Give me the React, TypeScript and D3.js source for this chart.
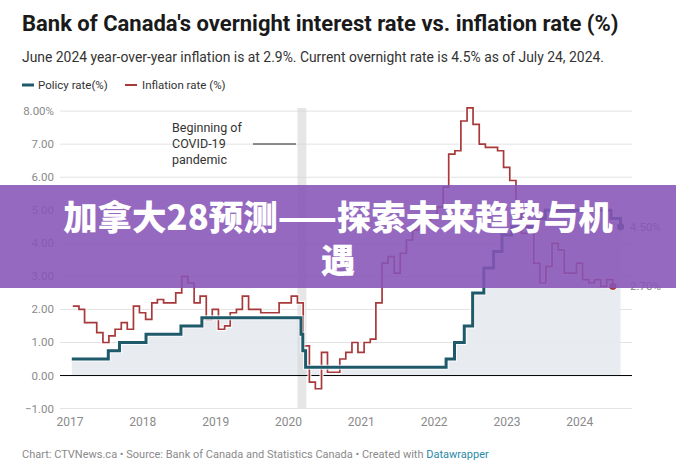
import React from "react";
import * as d3 from "d3";

const yTicks = [-1, 0, 1, 2, 3, 4, 5, 6, 7, 8];
const yearTicks = [2017, 2018, 2019, 2020, 2021, 2022, 2023, 2024];

// Policy rate changes (date, rate)
const policyDates = [
  "2017-01-10", "2017-07-12", "2017-09-06", "2018-01-17", "2018-07-11", "2018-10-24",
  "2020-03-04", "2020-03-13", "2020-03-27", "2022-03-02", "2022-04-13", "2022-06-01",
  "2022-07-13", "2022-09-07", "2022-10-26", "2022-12-07", "2023-01-25", "2023-06-07",
  "2023-07-12", "2024-06-05", "2024-07-24",
];
const policyValues = [
  0.5, 0.75, 1.0, 1.25, 1.5, 1.75,
  1.25, 0.75, 0.25, 0.5, 1.0, 1.5,
  2.5, 3.25, 3.75, 4.25, 4.5, 4.75,
  5.0, 4.75, 4.5,
];

// Monthly CPI year-over-year inflation, Jan 2017 – Jun 2024
const inflationStart = "2017-01";
const inflationValues = [
  2.1, 2.0, 1.6, 1.6, 1.3, 1.0, 1.2, 1.4, 1.6, 1.4, 2.1, 1.9,
  1.7, 2.2, 2.3, 2.2, 2.2, 2.5, 3.0, 2.8, 2.2, 2.4, 1.7, 2.0,
  1.4, 1.5, 1.9, 2.0, 2.4, 2.0, 2.0, 1.9, 1.9, 1.9, 2.2, 2.2,
  2.4, 2.2, 0.9, -0.2, -0.4, 0.7, 0.1, 0.1, 0.5, 0.7, 1.0, 0.7,
  1.0, 1.1, 2.2, 3.4, 3.6, 3.1, 3.7, 4.1, 4.4, 4.7, 4.7, 4.8,
  5.1, 5.7, 6.7, 6.8, 7.7, 8.1, 7.6, 7.0, 6.9, 6.9, 6.8, 6.3,
  5.9, 5.2, 4.3, 4.4, 3.4, 2.8, 3.3, 4.0, 3.8, 3.1, 3.1, 3.4,
  2.9, 2.8, 2.9, 2.7, 2.9, 2.7,
];

const covidBand = ["2020-02-15", "2020-03-31"];

const TITLE = "Bank of Canada's overnight interest rate vs. inflation rate (%)";
const SUBTITLE = "June 2024 year-over-year inflation is at 2.9%. Current overnight rate is 4.5% as of July 24, 2024.";
const BANNER1 = "加拿大28预测——探索未来趋势与机";
const BANNER2 = "遇";

const font = "Roboto, 'Noto Sans', sans-serif";

function yearFrac(d: Date) {
  const y = d.getFullYear();
  const s = new Date(y, 0, 1).getTime();
  const e = new Date(y + 1, 0, 1).getTime();
  return y + (d.getTime() - s) / (e - s);
}

export default function App() {
  const W = 676, H = 475;
  const x = d3.scaleLinear().domain([2017, 2024]).range([70, 579.8]);
  const y = d3.scaleLinear().domain([-1, 8]).range([408.6, 111.1]);
  const parse = d3.timeParse("%Y-%m-%d");

  const policy = policyDates.map((d, i) => ({ t: yearFrac(parse(d)!), v: policyValues[i] }));
  const [sy, sm] = inflationStart.split("-").map(Number);
  const inflation = inflationValues.map((v, i) => {
    const d = new Date(sy, sm - 1 + i, 15);
    return { t: yearFrac(d), v };
  });

  const policyLine = d3.line<{ t: number; v: number }>()
    .x((d) => x(d.t)).y((d) => y(d.v)).curve(d3.curveStepAfter);
  const policyArea = d3.area<{ t: number; v: number }>()
    .x((d) => x(d.t)).y0(y(0)).y1((d) => y(d.v)).curve(d3.curveStepAfter);
  const inflLine = d3.line<{ t: number; v: number }>()
    .x((d) => x(d.t)).y((d) => y(d.v)).curve(d3.curveStepAfter);

  const pLast = policy[policy.length - 1];
  const iLast = inflation[inflation.length - 1];
  const pEnd = [...policy, { t: 2024.56, v: pLast.v }];
  const bx0 = x(yearFrac(parse(covidBand[0])!));
  const bx1 = x(yearFrac(parse(covidBand[1])!));

  return (
    <svg width={W} height={H} style={{ position: "absolute", left: 0, top: 0, background: "#fff" }} fontFamily={font}>
      <rect width={W} height={H} fill="#fff" />
      <text x={22} y={31} fontSize={22} fontWeight={700} fill="#1a1a1a">{TITLE}</text>
      <text x={22} y={62} fontSize={13.9} fill="#333">{SUBTITLE}</text>
      {/* legend */}
      <line x1={22} x2={34} y1={85} y2={85} stroke="#1f5a6b" strokeWidth={3} />
      <text x={38} y={89} fontSize={11.5} fill="#333">Policy rate(%)</text>
      <line x1={125} x2={137} y1={85} y2={85} stroke="#a8393a" strokeWidth={2} />
      <text x={142} y={89} fontSize={11.5} fill="#333">Inflation rate (%)</text>

      {/* gridlines */}
      {yTicks.map((t) => (
        <line key={t} x1={60} x2={632} y1={y(t)} y2={y(t)} stroke="#e2e2e2" strokeWidth={1} />
      ))}
      {yTicks.map((t) => (
        <text key={"l" + t} x={54} y={y(t) + 4} fontSize={11.5} textAnchor="end" fill="#8a8a8a">
          {t === 8 ? "8.00%" : t < 0 ? "\u22121.00" : t.toFixed(2)}
        </text>
      ))}
      {yearTicks.map((t) => (
        <text key={"x" + t} x={x(t)} y={426} fontSize={12} textAnchor="middle" fill="#8a8a8a">{t}</text>
      ))}

      {/* area under policy */}
      <path d={policyArea(pEnd)!} fill="#e6eaee" opacity={0.9} />
      {/* covid band */}
      <rect x={bx0} y={108} width={bx1 - bx0} height={300} fill="#d6d6d6" opacity={0.6} />
      <line x1={60} x2={632} y1={y(0)} y2={y(0)} stroke="#000" strokeWidth={1} />

      {/* annotation */}
      <text x={172} y={132} fontSize={12.5} fill="#333">Beginning of</text>
      <text x={172} y={148} fontSize={12.5} fill="#333">COVID-19</text>
      <text x={172} y={164} fontSize={12.5} fill="#333">pandemic</text>
      <line x1={253} x2={296} y1={144} y2={144} stroke="#222" strokeWidth={1} />

      {/* inflation line */}
      <path d={inflLine(inflation)!} fill="none" stroke="#fff" strokeWidth={4} strokeOpacity={0.9} />
      <path d={inflLine(inflation)!} fill="none" stroke="#a8393a" strokeWidth={1.7} />
      {/* policy line */}
      <path d={policyLine(pEnd)!} fill="none" stroke="#fff" strokeWidth={5} strokeOpacity={0.8} />
      <path d={policyLine(pEnd)!} fill="none" stroke="#1f5a6b" strokeWidth={3} />

      <circle cx={x(2024.56)} cy={y(pLast.v)} r={3.6} fill="#1f5a6b" />
      <circle cx={x(iLast.t)} cy={y(iLast.v)} r={3.6} fill="#a8393a" />
      <text x={630} y={y(pLast.v) + 4} fontSize={11.5} fill="#8a8a8a">4.50%</text>
      <text x={630} y={y(iLast.v) + 4} fontSize={11.5} fill="#8a8a8a">2.70%</text>

      {/* footer */}
      <text x={22} y={458} fontSize={11} fill="#8a8a8a">
        Chart: CTVNews.ca • Source: Bank of Canada and Statistics Canada • Created with{" "}
        <tspan fill="#2a8aa8">Datawrapper</tspan>
      </text>

      {/* banner */}
      <rect x={0} y={185} width={W} height={103} fill="rgb(134,84,182)" opacity={0.88} />
      <text x={338} y={230} fontSize={34.5} fontWeight={900} fill="#fff" textAnchor="middle"
        fontFamily="'Noto Sans CJK SC', sans-serif">{BANNER1}</text>
      <text x={338} y={273} fontSize={34.5} fontWeight={900} fill="#fff" textAnchor="middle"
        fontFamily="'Noto Sans CJK SC', sans-serif">{BANNER2}</text>
    </svg>
  );
}
